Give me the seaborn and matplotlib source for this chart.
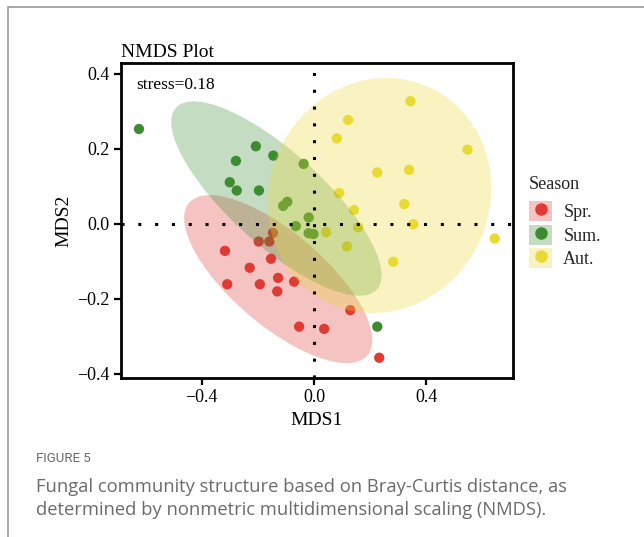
import numpy as np
import pandas as pd
import matplotlib
matplotlib.use("Agg")
import matplotlib.pyplot as plt
import seaborn as sns
from matplotlib.patches import Patch
from matplotlib.lines import Line2D
from matplotlib.legend_handler import HandlerTuple

# ---- data ----
seasons = ["Spr.", "Sum.", "Aut."]
spr_x = [-0.146, -0.197, -0.159, -0.317, -0.153, -0.229, -0.128, -0.071, -0.309, -0.193, -0.131, -0.053, 0.036, 0.129, 0.232]
spr_y = [-0.024, -0.047, -0.047, -0.072, -0.093, -0.117, -0.144, -0.154, -0.161, -0.161, -0.180, -0.274, -0.280, -0.230, -0.357]
sum_x = [-0.623, -0.207, -0.145, -0.278, -0.037, -0.300, -0.275, -0.196, -0.095, -0.110, -0.019, -0.065, -0.019, -0.002, 0.225]
sum_y = [0.253, 0.207, 0.182, 0.168, 0.160, 0.111, 0.089, 0.089, 0.059, 0.048, 0.017, -0.006, -0.025, -0.027, -0.274]
aut_x = [0.343, 0.121, 0.081, 0.546, 0.225, 0.338, 0.089, 0.321, 0.142, 0.353, 0.157, 0.043, 0.643, 0.117, 0.282]
aut_y = [0.327, 0.277, 0.228, 0.198, 0.137, 0.144, 0.082, 0.053, 0.037, -0.001, -0.009, -0.022, -0.039, -0.060, -0.101]
stress_label = "stress=0.18"
x_ticks = [-0.4, 0.0, 0.4]
y_ticks = [-0.4, -0.2, 0.0, 0.2, 0.4]

palette = {"Spr.": "#DF3A33", "Sum.": "#3D8C33", "Aut.": "#EBD933"}

df = pd.DataFrame({
    "MDS1": spr_x + sum_x + aut_x,
    "MDS2": spr_y + sum_y + aut_y,
    "Season": ["Spr."] * len(spr_x) + ["Sum."] * len(sum_x) + ["Aut."] * len(aut_x),
})


def cov_trob(x, nu=5, maxit=25, tol=0.01):
    n, p = x.shape
    loc = x.mean(axis=0)
    w = np.ones(n)
    X = x - loc
    for _ in range(maxit):
        w0 = w
        X = x - loc
        _, d, vt = np.linalg.svd(np.sqrt(w / w.sum())[:, None] * X, full_matrices=False)
        wX = X @ vt.T @ np.diag(1.0 / d)
        Q = (wX ** 2).sum(axis=1)
        w = (nu + p) / (nu + Q)
        loc = (w[:, None] * x).sum(axis=0) / w.sum()
        if np.all(np.abs(w - w0) < tol):
            break
    cov = (np.sqrt(w)[:, None] * X).T @ (np.sqrt(w)[:, None] * X) / n
    return loc, cov


# F(0.95; 2, 14) quantile for n = 15 points per group
F_Q = 3.738892


def ellipse_pts(xs, ys, segments=51):
    pts = np.column_stack([xs, ys])
    center, shape = cov_trob(pts)
    chol = np.linalg.cholesky(shape).T
    radius = np.sqrt(2 * F_Q)
    ang = np.linspace(0, 2 * np.pi, segments + 1)
    circ = np.column_stack([np.cos(ang), np.sin(ang)])
    e = center + radius * (circ @ chol)
    return e[:, 0], e[:, 1]


sns.set_style("white")
plt.rcParams["font.family"] = ["Liberation Serif", "DejaVu Serif"]

fig = plt.figure(figsize=(6.44, 5.37), dpi=100)
ax = fig.add_axes([121 / 644, 1 - 378 / 537, (513 - 121) / 644, (378 - 63) / 537])

sns.scatterplot(data=df, x="MDS1", y="MDS2", hue="Season", palette=palette,
                hue_order=seasons, s=55, edgecolor="none", legend=False, ax=ax, zorder=2)

for s, xs, ys in zip(seasons, [spr_x, sum_x, aut_x], [spr_y, sum_y, aut_y]):
    ex, ey = ellipse_pts(np.array(xs), np.array(ys))
    ax.fill(ex, ey, color=palette[s], alpha=0.3, lw=0, zorder=3)

ax.axhline(0, color="black", ls=(0, (1, 4.5)), lw=2.2, zorder=4)
ax.axvline(0, color="black", ls=(0, (1, 4.5)), lw=2.2, zorder=4)

ax.set_xlim(-0.687, 0.708)
ax.set_ylim(-0.411, 0.429)
ax.set_xticks(x_ticks)
ax.set_yticks(y_ticks)
ax.set_xticklabels(["\u22120.4", "0.0", "0.4"])
ax.set_yticklabels(["\u22120.4", "\u22120.2", "0.0", "0.2", "0.4"])
ax.tick_params(axis="both", direction="out", length=5, width=1.6, color="black",
               labelsize=13, labelcolor="black", pad=3, bottom=True, left=True)
for sp in ax.spines.values():
    sp.set_color("black")
    sp.set_linewidth(2)
ax.set_xlabel("MDS1", fontsize=14, labelpad=4, color="black")
ax.set_ylabel("MDS2", fontsize=14, labelpad=4, color="black")
ax.set_title("NMDS Plot", fontsize=14, loc="left", pad=4, color="black")
ax.text(0.04, 0.955, stress_label, transform=ax.transAxes, fontsize=12.5,
        va="top", ha="left", color="black")

handles = [(Patch(facecolor=palette[s], alpha=0.3, edgecolor="none"),
            Line2D([], [], marker="o", ls="", color=palette[s], markersize=8))
           for s in seasons]
leg = fig.legend(handles, seasons, handler_map={tuple: HandlerTuple(ndivide=1, pad=0)},
                 title="Season", loc="upper left", bbox_to_anchor=(529 / 644, 1 - 176 / 537),
                 frameon=False, fontsize=13, title_fontsize=13, handlelength=1.3,
                 handleheight=1.3, labelspacing=0.2, handletextpad=0.6, borderaxespad=0,
                 borderpad=0)
leg._legend_box.align = "left"
leg._legend_box.sep = 6

# figure frame lines and caption
fig.add_artist(Line2D([8 / 644, 1], [1 - 7 / 537, 1 - 7 / 537], color="#9a9a9a", lw=1.2))
fig.add_artist(Line2D([8 / 644, 8 / 644], [0, 1 - 7 / 537], color="#9a9a9a", lw=1.2))
fig.text(36 / 644, 1 - 459 / 537, "FIGURE 5", fontsize=9.5, color="#6b6b6b",
         family=["Roboto", "DejaVu Sans"], va="center", ha="left")
fig.text(36 / 644, 1 - 487 / 537, "Fungal community structure based on Bray-Curtis distance, as",
         fontsize=13.2, color="#6b6b6b", family=["Open Sans", "DejaVu Sans"], va="center", ha="left")
fig.text(36 / 644, 1 - 510 / 537, "determined by nonmetric multidimensional scaling (NMDS).",
         fontsize=13.2, color="#6b6b6b", family=["Open Sans", "DejaVu Sans"], va="center", ha="left")

fig.savefig("out.png", dpi=100)
